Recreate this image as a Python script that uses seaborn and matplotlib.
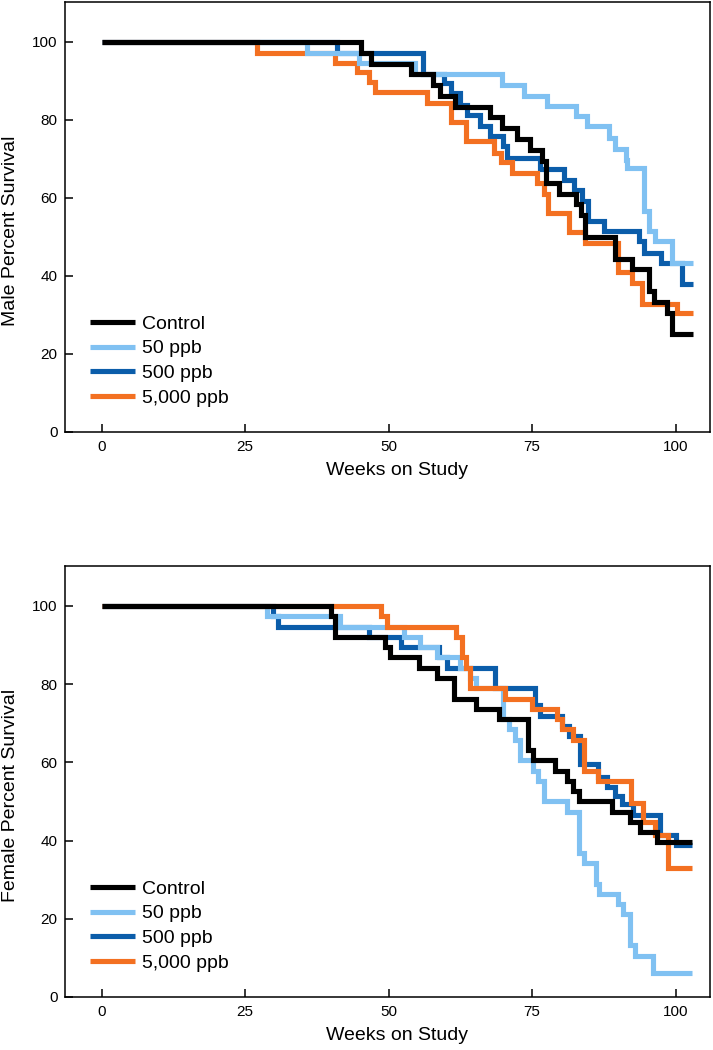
"""
Kaplan-Meier style survival curves, male and female, by dose group.
Writes out.png (713x1050).
"""

import pandas as pd
import matplotlib
matplotlib.use("Agg")
import matplotlib.pyplot as plt
import seaborn as sns

OUT_FILE = "out.png"

GROUPS = ["Control", "50 ppb", "500 ppb", "5,000 ppb"]
COLORS = {
    "Control":   "#000000",
    "50 ppb":    "#80C1F2",
    "500 ppb":   "#0B5DAA",
    "5,000 ppb": "#F37021",
}

# ─────────────────────────────────────────────
# DATA (weeks / percent survival, step-post)
# ─────────────────────────────────────────────

male_control_weeks = [0, 45.2, 46.9, 53.9, 57.8, 58.9, 61.5, 67.7, 69.8, 72.4, 74.7, 76.7,
                      77.4, 79.6, 82.6, 83.5, 84.3, 89.5, 92.4, 95.3, 96.2, 98.5, 99.4, 103.1]
male_control_pct = [100, 97.2, 94.4, 91.7, 88.9, 86.1, 83.3, 80.6, 77.8, 75.0, 72.2, 69.4,
                    63.9, 61.1, 58.3, 55.6, 50.0, 44.4, 41.7, 36.1, 33.3, 30.6, 25.0, 25.0]

male_50_weeks = [0, 35.7, 44.8, 54.6, 69.8, 73.5, 77.6, 82.6, 84.6, 88.4, 89.5, 91.3,
                 91.6, 94.5, 95.3, 96.5, 99.4, 103.1]
male_50_pct = [100, 97.1, 94.5, 91.7, 89.0, 86.0, 83.5, 80.9, 78.3, 75.4, 72.4, 69.8,
               67.7, 56.6, 51.5, 48.9, 43.3, 43.3]

male_500_weeks = [0, 41.0, 56.0, 59.6, 60.8, 62.5, 63.7, 66.0, 67.7, 70.0, 70.6, 76.3,
                  80.5, 82.3, 83.7, 84.8, 87.5, 93.6, 94.5, 97.5, 101.2, 103.1]
male_500_pct = [100, 97.2, 91.7, 89.5, 86.9, 83.9, 81.3, 78.4, 75.8, 73.2, 70.2, 67.3,
                64.5, 61.9, 59.3, 54.0, 51.5, 48.9, 45.9, 43.3, 37.8, 37.8]

male_5000_weeks = [0, 27.0, 40.7, 44.5, 46.5, 47.7, 56.7, 60.8, 63.4, 68.3, 69.5, 71.5,
                   75.8, 77.0, 77.7, 81.5, 84.3, 90.0, 92.4, 94.2, 100.3, 103.1]
male_5000_pct = [100, 97.2, 94.6, 92.2, 89.7, 87.1, 84.3, 79.4, 74.5, 71.5, 69.2, 66.4,
                 63.8, 60.9, 56.1, 51.2, 48.5, 41.1, 38.2, 32.9, 30.5, 30.5]

female_control_weeks = [0, 40.0, 40.7, 49.4, 50.2, 55.2, 58.4, 61.4, 65.2, 69.3, 74.2,
                        75.2, 79.0, 81.0, 82.1, 83.1, 88.9, 92.1, 93.8, 96.7, 102.9]
female_control_pct = [100, 97.4, 92.1, 89.5, 86.8, 84.2, 81.6, 76.3, 73.7, 71.1, 63.2,
                      60.5, 57.9, 55.3, 52.6, 50.0, 47.4, 44.7, 42.1, 39.5, 39.5]

female_50_weeks = [0, 28.8, 41.5, 52.6, 55.5, 58.4, 62.4, 64.2, 65.3, 70.0, 70.9, 72.0,
                   72.9, 75.1, 76.1, 77.0, 81.0, 83.1, 84.1, 86.1, 86.7, 89.9, 90.9,
                   92.1, 93.0, 96.1, 102.9]
female_50_pct = [100, 97.4, 94.7, 92.1, 89.5, 86.8, 84.2, 81.6, 78.9, 71.1, 68.4, 65.8,
                 60.5, 57.9, 55.3, 50.0, 47.4, 36.8, 34.2, 28.9, 26.3, 23.7, 21.1,
                 13.2, 10.5, 6.2, 6.2]

female_500_weeks = [0, 29.9, 30.8, 46.5, 52.2, 58.8, 60.1, 68.5, 75.5, 76.3, 80.2, 81.5,
                    83.3, 86.4, 88.0, 89.4, 90.6, 92.6, 97.3, 100.0, 102.9]
female_500_pct = [100, 97.4, 94.7, 92.1, 89.5, 86.8, 84.2, 78.9, 74.7, 71.9, 69.4, 66.8,
                  59.5, 56.2, 53.6, 51.5, 49.3, 46.5, 41.5, 38.8, 38.8]

female_5000_weeks = [0, 48.7, 49.7, 61.8, 62.7, 63.5, 64.2, 70.3, 74.9, 79.3, 80.2, 82.2,
                     84.0, 86.5, 92.2, 94.4, 96.4, 98.7, 102.9]
female_5000_pct = [100, 97.4, 94.7, 92.1, 86.8, 84.2, 78.9, 76.3, 73.7, 71.1, 68.4, 65.8,
                   57.9, 55.3, 49.5, 44.7, 41.5, 32.9, 32.9]

X_TICKS = [0, 25, 50, 75, 100]
Y_TICKS = [0, 20, 40, 60, 80, 100]


def to_frame(series):
    rows = []
    for group, (weeks, pct) in series.items():
        for w, p in zip(weeks, pct):
            rows.append({"group": group, "weeks": w, "pct": p})
    return pd.DataFrame(rows)


# ─────────────────────────────────────────────
# PLOTTING
# ─────────────────────────────────────────────

def draw_panel(ax, df, draw_order, ylabel):
    for group in draw_order:
        sub = df[df["group"] == group]
        sns.lineplot(data=sub, x="weeks", y="pct", ax=ax, color=COLORS[group],
                     label=group, estimator=None, sort=False, drawstyle="steps-post",
                     lw=3.7, solid_joinstyle="miter", solid_capstyle="butt")

    ax.set_xlim(-6.4, 106.0)
    ax.set_ylim(0, 110.2)
    ax.set_xticks(X_TICKS)
    ax.set_yticks(Y_TICKS)
    ax.tick_params(bottom=True, left=True, top=False, right=False,
                   direction="in", length=6, width=1.1, pad=5.5,
                   labelsize=11, colors="black")
    for sp in ax.spines.values():
        sp.set_visible(True)
        sp.set_color("black")
        sp.set_linewidth(1.1)

    ax.set_xlabel("Weeks on Study", fontsize=14, color="black")
    ax.set_ylabel(ylabel, fontsize=14, color="black")
    ax.xaxis.set_label_coords(0.514, -0.070)
    ax.yaxis.set_label_coords(-0.071, 0.467)

    handles, labels = ax.get_legend_handles_labels()
    lookup = dict(zip(labels, handles))
    leg = ax.legend([lookup[g] for g in GROUPS], GROUPS, loc="lower left",
                    bbox_to_anchor=(0.0388, 0.058), frameon=False, fontsize=14,
                    handlelength=2.3, handletextpad=0.35, labelspacing=0.37,
                    borderpad=0, borderaxespad=0)
    for txt in leg.get_texts():
        txt.set_color("black")


def main():
    sns.set_theme(style="white")
    plt.rcParams["font.family"] = ["Liberation Sans", "DejaVu Sans"]

    male = to_frame({
        "Control":   (male_control_weeks, male_control_pct),
        "50 ppb":    (male_50_weeks, male_50_pct),
        "500 ppb":   (male_500_weeks, male_500_pct),
        "5,000 ppb": (male_5000_weeks, male_5000_pct),
    })
    female = to_frame({
        "Control":   (female_control_weeks, female_control_pct),
        "50 ppb":    (female_50_weeks, female_50_pct),
        "500 ppb":   (female_500_weeks, female_500_pct),
        "5,000 ppb": (female_5000_weeks, female_5000_pct),
    })

    fig = plt.figure(figsize=(7.13, 10.5), dpi=100)
    ax_m = fig.add_axes([0.0912, 0.5886, 0.9046, 0.4095])
    ax_f = fig.add_axes([0.0912, 0.0505, 0.9046, 0.4105])

    draw_panel(ax_m, male, ["500 ppb", "5,000 ppb", "50 ppb", "Control"],
               "Male Percent Survival")
    draw_panel(ax_f, female, ["500 ppb", "50 ppb", "5,000 ppb", "Control"],
               "Female Percent Survival")

    fig.savefig(OUT_FILE, dpi=100)
    plt.close(fig)


if __name__ == "__main__":
    main()
